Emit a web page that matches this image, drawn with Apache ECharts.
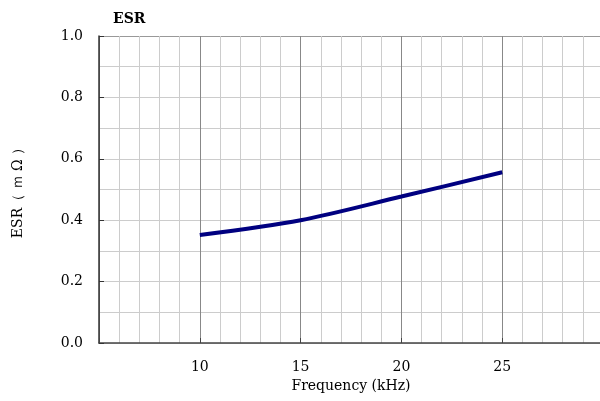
<!DOCTYPE html>
<html>
<head>
<meta charset="utf-8">
<script src="https://cdn.jsdelivr.net/npm/echarts@6/dist/echarts.min.js"></script>
<style>html,body{margin:0;padding:0;background:#fff}#c{width:600px;height:401px}</style>
</head>
<body>
<div id="c"></div>
<script>
const frequency = [10, 15, 20, 25];
const esr = [0.352, 0.400, 0.477, 0.556];
const title = 'ESR';
const xName = 'Frequency (kHz)';
const yName = 'ESR（ ｍ Ω ）';

const font = "'DejaVu Serif', 'Liberation Serif', serif";
const chart = echarts.init(document.getElementById('c'), null, {renderer: 'canvas'});
chart.setOption({
  animation: false,
  backgroundColor: '#fff',
  title: {text: title, left: 108, top: 7, textStyle: {fontFamily: font, fontSize: 14, fontWeight: 'bold', color: '#000'}},
  grid: {left: 99, right: -3, top: 36, bottom: 58, containLabel: false, outerBoundsMode: 'none'},
  xAxis: {
    type: 'value', min: 5, max: 30, interval: 5,
    name: xName, nameLocation: 'middle', nameGap: 34,
    nameTextStyle: {fontFamily: font, fontSize: 14, color: '#000'},
    axisLine: {show: true, onZero: false, lineStyle: {color: '#444', width: 1.5}},
    axisTick: {show: true, inside: true, length: 5, lineStyle: {color: '#444'}},
    axisLabel: {fontFamily: font, fontSize: 14, color: '#000', margin: 17,
      formatter: v => (v === 5 || v === 30) ? '' : String(v)},
    splitLine: {show: true, lineStyle: {color: '#888', width: 1}},
    minorTick: {show: false, splitNumber: 5},
    minorSplitLine: {show: true, lineStyle: {color: '#ccc', width: 1}}
  },
  yAxis: {
    type: 'value', min: 0, max: 1, interval: 0.2,
    name: yName, nameLocation: 'middle', nameGap: 74, nameRotate: 90,
    nameTextStyle: {fontFamily: font, fontSize: 14, color: '#000'},
    axisLine: {show: true, onZero: false, lineStyle: {color: '#333', width: 1.5}},
    axisTick: {show: true, inside: true, length: 5, lineStyle: {color: '#333'}},
    axisLabel: {fontFamily: font, fontSize: 14, color: '#000', margin: 16, formatter: v => v.toFixed(1)},
    splitLine: {show: true, lineStyle: {color: ['#ccc', '#ccc', '#ccc', '#ccc', '#ccc', '#999'], width: 1}},
    minorTick: {show: false, splitNumber: 2},
    minorSplitLine: {show: true, lineStyle: {color: '#ccc', width: 1}}
  },
  series: [{
    type: 'line',
    data: frequency.map((f, i) => [f, esr[i]]),
    smooth: 0.3,
    showSymbol: false,
    lineStyle: {color: '#000080', width: 4}
  }]
});
</script>
</body>
</html>
